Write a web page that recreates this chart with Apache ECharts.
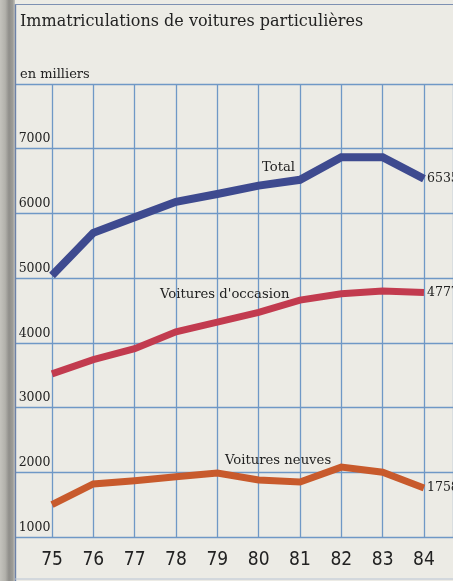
<!DOCTYPE html>
<html>
<head>
<meta charset="utf-8">
<script src="https://cdn.jsdelivr.net/npm/echarts@6/dist/echarts.min.js"></script>
<style>
  html, body { margin: 0; padding: 0; background: #ecebe5; overflow: hidden; }
  #chart { width: 453px; height: 581px; }
</style>
</head>
<body>
<div id="chart"></div>
<script>
// Immatriculations de voitures particulières, en milliers (1975-1984)
const years = [75, 76, 77, 78, 79, 80, 81, 82, 83, 84];
const total = [5040, 5700, 5940, 6180, 6300, 6430, 6520, 6870, 6870, 6535];
const occasion = [3520, 3740, 3910, 4170, 4320, 4470, 4660, 4760, 4800, 4777];
const neuves = [1500, 1820, 1870, 1930, 1990, 1880, 1850, 2080, 2000, 1758];
const yTickLabels = [1000, 2000, 3000, 4000, 5000, 6000, 7000];

const INK = '#222222';
const GRID = '#6f98c6';
const SERIF = '"DejaVu Serif", serif';

const chart = echarts.init(document.getElementById('chart'), null, { renderer: 'canvas' });

// one year step is ~41.3px; the plot starts one step before 1975
const GRID_LEFT = 10.67;
const YEAR_STEP = 41.33;
const xMax = 74 + (chart.getWidth() - GRID_LEFT) / YEAR_STEP;

function lineSeries(name, values, color, width) {
  return {
    name, type: 'line',
    data: values.map((v, i) => [years[i], v]),
    symbol: 'none', silent: true, animation: false, clip: false,
    lineStyle: { color, width, cap: 'butt', join: 'miter' },
    endLabel: {
      show: true, distance: 3, color: INK, fontFamily: SERIF, fontSize: 12.5,
      formatter: p => String(p.value[1])
    },
    z: 3
  };
}

chart.setOption({
  backgroundColor: '#ecebe5',
  animation: false,
  grid: {
    left: GRID_LEFT, top: 84, right: 0, bottom: 44,
    containLabel: false, outerBoundsMode: 'none'
  },
  xAxis: {
    type: 'value', min: 74, max: xMax, interval: 1,
    axisLine: { show: false }, axisTick: { show: false },
    splitLine: { show: true, lineStyle: { color: GRID, width: 1.3 } },
    axisLabel: {
      margin: 14, color: INK, fontSize: 19,
      fontFamily: '"Liberation Sans Narrow", "DejaVu Sans Condensed", sans-serif',
      formatter: v => years.includes(v) ? String(v) : ''
    }
  },
  yAxis: {
    type: 'value', min: 1000, max: 8000, interval: 1000,
    axisLine: { show: false }, axisTick: { show: false },
    splitLine: { show: true, lineStyle: { color: GRID, width: 1.3 } },
    axisLabel: {
      inside: true, margin: 8, color: INK, fontSize: 12.5, fontFamily: SERIF,
      verticalAlign: 'bottom', padding: [0, 0, 3, 0],
      formatter: v => yTickLabels.includes(v) ? String(v) : ''
    }
  },
  series: [
    lineSeries('Total', total, '#3e4a8f', 8),
    lineSeries("Voitures d'occasion", occasion, '#c23b4f', 7),
    lineSeries('Voitures neuves', neuves, '#c85a2c', 7)
  ],
  graphic: [
    // page binding shadow on the left edge
    {
      type: 'rect', z: 100, silent: true,
      shape: { x: 0, y: 0, width: 15, height: 581 },
      style: {
        fill: new echarts.graphic.LinearGradient(0, 0, 1, 0, [
          { offset: 0, color: '#c4c3bd' },
          { offset: 0.35, color: '#b2b1ab' },
          { offset: 0.6, color: '#8f8e8a' },
          { offset: 0.85, color: '#9d9c97' },
          { offset: 1, color: '#c6c5bf' }
        ])
      }
    },
    // frame lines
    { type: 'line', z: 101, silent: true, shape: { x1: 15.5, y1: 4, x2: 15.5, y2: 581 },
      style: { stroke: '#6d82a8', lineWidth: 1.4 } },
    { type: 'line', z: 101, silent: true, shape: { x1: 15, y1: 4.5, x2: 460, y2: 4.5 },
      style: { stroke: '#7d90b2', lineWidth: 1.2 } },
    { type: 'line', z: 101, silent: true, shape: { x1: 15, y1: 579, x2: 460, y2: 579 },
      style: { stroke: '#b9c4d4', lineWidth: 1 } },
    // title and unit
    { type: 'text', z: 102, silent: true, left: 20, top: 14,
      style: { text: 'Immatriculations de voitures particulières', fill: INK,
               font: '16px ' + SERIF } },
    { type: 'text', z: 102, silent: true, left: 20, top: 68,
      style: { text: 'en milliers', fill: INK, font: '13px ' + SERIF } },
    // series names
    { type: 'text', z: 102, silent: true, left: 262, top: 161,
      style: { text: 'Total', fill: INK, font: '13.2px ' + SERIF } },
    { type: 'text', z: 102, silent: true, left: 160, top: 288,
      style: { text: "Voitures d'occasion", fill: INK, font: '13.2px ' + SERIF } },
    { type: 'text', z: 102, silent: true, left: 225, top: 454,
      style: { text: 'Voitures neuves', fill: INK, font: '13.2px ' + SERIF } }
  ]
});
</script>
</body>
</html>
